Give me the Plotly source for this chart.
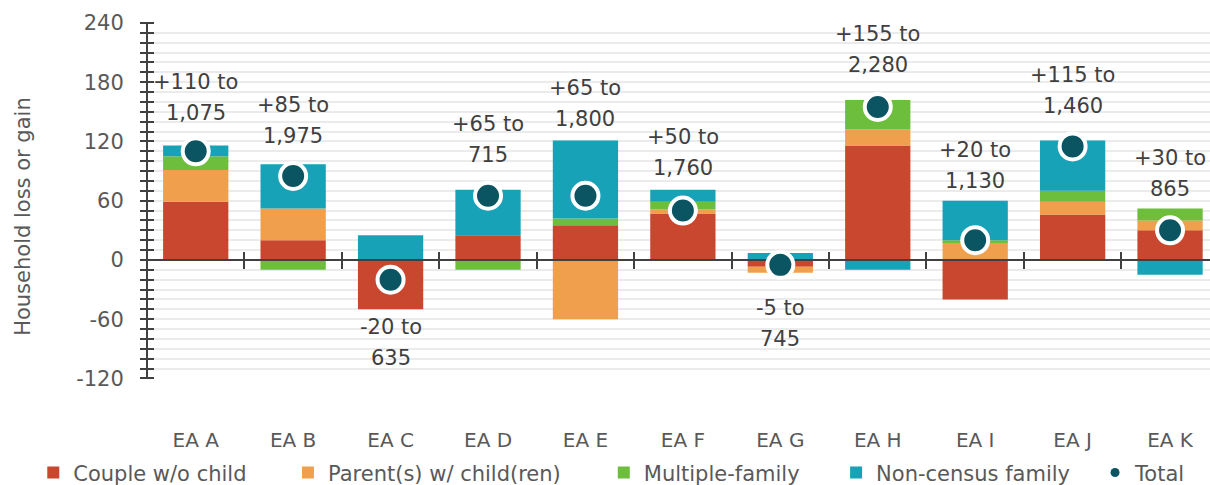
import plotly.graph_objects as go

# ---- data ----
areas = ["EA A", "EA B", "EA C", "EA D", "EA E", "EA F", "EA G", "EA H", "EA I", "EA J", "EA K"]
couple_no_child = [59, 20, -50, 25, 35, 47, -7, 116, -40, 46, 30]
parents_children = [32, 32, 0, 0, -60, 4, -6, 16, 18, 13, 10]
multiple_family = [14, -10, 0, -10, 7, 8, 0, 30, 2, 11, 12]
non_census = [11, 45, 25, 46, 79, 12, 7, -10, 40, 51, -15]
total_low = [110, 85, -20, 65, 65, 50, -5, 155, 20, 115, 30]
total_high = [1075, 1975, 635, 715, 1800, 1760, 745, 2280, 1130, 1460, 865]
y_ticks = [-120, -60, 0, 60, 120, 180, 240]
y_tick_text = ["-120", "-60", "0", "60", "120", "180", "240"]

# ---- layout constants ----
label_y = [165, 141, -84, 122, 158, 109, -64, 213, 96, 172, 88]   # centre of each two-line label
X_RANGE = [-0.5, 10.41]
Y_RANGE = [-120, 240]
PLOT_W = 1210 - 147
TICK_HALF = 7          # ticks cross the axes, this many px on each side
FONT = "DejaVu Sans"
TXT = "#595959"
AXIS = "#404040"

colors = {
    "couple": "#C9472E",
    "parents": "#F0A04C",
    "multiple": "#6DBE3C",
    "noncensus": "#17A2B8",
    "total": "#0B5563",
}

xpos = list(range(len(areas)))

fig = go.Figure()

series = [
    ("Couple w/o child", couple_no_child, colors["couple"], "legend"),
    ("Parent(s) w/ child(ren)", parents_children, colors["parents"], "legend2"),
    ("Multiple-family", multiple_family, colors["multiple"], "legend3"),
    ("Non-census family", non_census, colors["noncensus"], "legend4"),
]
for name, vals, col, leg in series:
    fig.add_trace(go.Bar(
        x=xpos, y=vals, name=name, marker=dict(color=col, line=dict(width=0)),
        legend=leg, hoverinfo="name+y",
    ))

# zero line with category separators, on its own overlay so it sits above the bars
fig.add_trace(go.Scatter(
    x=X_RANGE, y=[0, 0], mode="lines", line=dict(color=AXIS, width=2),
    xaxis="x2", yaxis="y", showlegend=False, hoverinfo="skip", cliponaxis=False,
))

# total markers on top of everything
fig.add_trace(go.Scatter(
    x=xpos, y=total_low, mode="markers", name="Total", showlegend=False,
    xaxis="x3", yaxis="y",
    marker=dict(size=26, color=colors["total"], line=dict(color="white", width=4)),
))
# compact legend swatch for the totals
fig.add_trace(go.Scatter(
    x=[None], y=[None], mode="markers", name="Total", legend="legend5",
    marker=dict(size=9, color=colors["total"]),
))

# "low to high" labels, two lines each
for xi, lo, hi, ly in zip(xpos, total_low, total_high, label_y):
    sign = "+" if lo > 0 else ""
    for line, shift in ((f"{sign}{lo} to", 15.5), (f"{hi:,}", -15.5)):
        fig.add_annotation(x=xi, y=ly, yshift=shift, text=line, showarrow=False,
                           xanchor="center", yanchor="middle",
                           font=dict(family=FONT, size=21, color=AXIS))

# y-axis title
fig.add_annotation(xref="paper", yref="paper", x=-0.1165, y=0.455, text="Household loss or gain",
                   textangle=-90, showarrow=False, xanchor="center", yanchor="middle",
                   font=dict(family=FONT, size=21, color=TXT))

# vertical axis line at the left edge of the plot
fig.add_shape(type="line", xref="paper", yref="y", x0=0, x1=0, y0=Y_RANGE[0], y1=Y_RANGE[1],
              line=dict(color=AXIS, width=2), layer="above")

legend_common = dict(orientation="h", xref="container", yref="container", y=0.025,
                     yanchor="middle", xanchor="left", bgcolor="rgba(0,0,0,0)",
                     font=dict(family=FONT, size=21, color=TXT), itemwidth=30)

boundaries = [i + 0.5 for i in xpos[:-1]]
zero_pos = (0 - Y_RANGE[0]) / (Y_RANGE[1] - Y_RANGE[0])

sep_axis = dict(
    overlaying="x", anchor="free", position=zero_pos, range=X_RANGE,
    tickvals=boundaries, ticklen=8, tickwidth=2, tickcolor=AXIS,
    showticklabels=False, showgrid=False, zeroline=False, showline=False,
)

fig.update_layout(
    width=1210, height=485,
    margin=dict(l=147, r=0, t=23, b=102),
    paper_bgcolor="white", plot_bgcolor="white",
    barmode="relative", bargap=0.33,
    showlegend=True,
    legend=dict(legend_common, x=0.0275),
    legend2=dict(legend_common, x=0.238),
    legend3=dict(legend_common, x=0.499),
    legend4=dict(legend_common, x=0.691),
    legend5=dict(legend_common, x=0.905),
    xaxis=dict(
        range=X_RANGE, tickvals=xpos, ticktext=areas, showline=False, showgrid=False,
        zeroline=False, ticks="outside", ticklen=44, tickcolor="rgba(0,0,0,0)",
        tickfont=dict(family=FONT, size=20, color=TXT),
    ),
    xaxis2=dict(sep_axis, ticks="outside"),
    xaxis3=dict(sep_axis, ticks="inside"),
    # the y axis is nudged right by half a tick so its outside ticks straddle the axis line
    yaxis=dict(
        range=Y_RANGE, tickvals=y_ticks, ticktext=y_tick_text,
        anchor="free", position=TICK_HALF / PLOT_W, showline=False,
        ticks="outside", ticklen=2 * TICK_HALF, tickwidth=2, ticklabelstandoff=12,
        tickcolor=AXIS,
        showgrid=True, gridcolor="#EBEBEB", gridwidth=2, zeroline=False,
        tickfont=dict(family=FONT, size=21, color=TXT),
        minor=dict(dtick=10, ticks="outside", ticklen=2 * TICK_HALF, tickwidth=2,
                   tickcolor=AXIS, showgrid=True, gridcolor="#EBEBEB", gridwidth=2),
    ),
)

fig.write_html("out.html")
